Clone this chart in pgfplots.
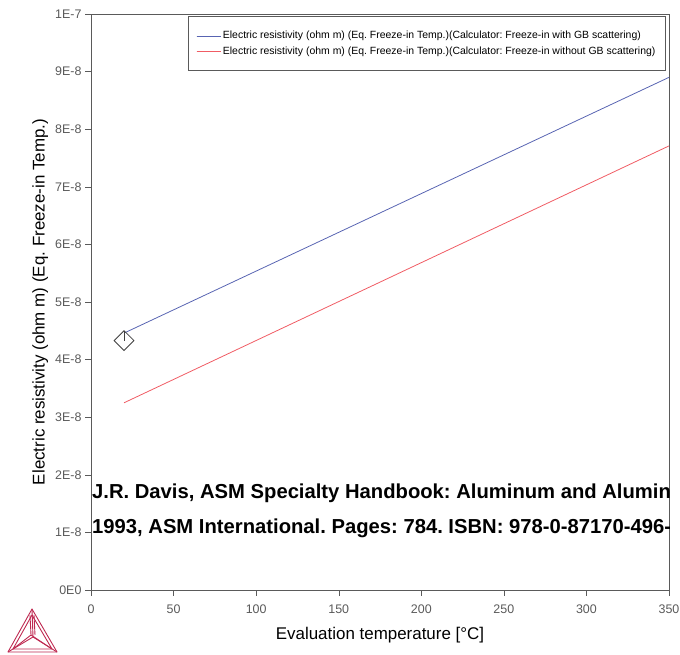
\documentclass[border=0pt]{standalone}
\usepackage{pgfplots}
\pgfplotsset{compat=1.18}
\usepackage{fontspec}
\setmainfont{Liberation Sans}
\setsansfont{Liberation Sans}
\frenchspacing
\definecolor{bl}{RGB}{88,100,178}
\definecolor{rd}{RGB}{240,92,100}
\definecolor{ax}{RGB}{90,90,90}
\definecolor{logo}{RGB}{190,40,80}
\begin{document}
\begin{tikzpicture}[x=1bp,y=1bp]
\useasboundingbox (0,0) rectangle (680,655);
\begin{axis}[
  at={(91bp,65bp)}, anchor=south west,
  scale only axis, width=578bp, height=576bp,
  xmin=0, xmax=350, ymin=0, ymax=1e-7,
  xtick={0,50,...,350},
  ytick={0,1e-8,2e-8,3e-8,4e-8,5e-8,6e-8,7e-8,8e-8,9e-8,1e-7},
  yticklabels={0E0,1E-8,2E-8,3E-8,4E-8,5E-8,6E-8,7E-8,8E-8,9E-8,1E-7},
  scaled y ticks=false,
  /pgf/number format/assume math mode=true,
  tick label style={font=\fontsize{12.5}{14}\selectfont, text=ax},
  xticklabel style={yshift=-5bp},
  tick align=outside, xtick pos=bottom, ytick pos=left,
  major tick length=6bp,
  axis line style={ax}, tick style={ax},
  xlabel={Evaluation temperature [°C]},
  ylabel={Electric resistivity (ohm m) (Eq. Freeze-in Temp.)},
  label style={font=\fontsize{17}{19}\selectfont},
  xlabel style={at={(axis description cs:0.5,-0.0781)}, anchor=center},
  ylabel style={at={(axis description cs:-0.088,0.5)}, anchor=center},
  legend cell align=left,
  legend style={at={(0.9945,0.9965)}, anchor=north east, draw=ax, line width=0.8pt,
    font=\fontsize{10.5}{12}\selectfont, row sep=2bp, inner xsep=8bp, inner ysep=13bp},
  legend image code/.code={\draw[#1] (0bp,0bp) -- (15bp,0bp); \path (0bp,0bp) -- (24bp,0bp);},
]
\addplot[bl, line width=0.8pt] coordinates {(20,4.46e-8) (350,8.9e-8)};
\addlegendentry{Electric resistivity (ohm m) (Eq. Freeze-in Temp.)(Calculator: Freeze-in with GB scattering)}
\addplot[rd, line width=0.8pt] coordinates {(20,3.25e-8) (350,7.71e-8)};
\addlegendentry{Electric resistivity (ohm m) (Eq. Freeze-in Temp.)(Calculator: Freeze-in without GB scattering)}
\addplot[only marks, mark=square, mark size=7bp, mark options={rotate=45, draw=black!75, line width=0.8pt},
  error bars/.cd, y dir=plus, y explicit, error mark=none, error bar style={black!75, line width=0.8pt}]
  coordinates {(20,4.33e-8) +- (0,0.17e-8)};
\end{axis}
\begin{scope}
\clip (91,65) rectangle (669,641);
\node[anchor=west, inner sep=0pt, font=\fontsize{20.3}{22}\selectfont\bfseries] at (92,162) {J.R. Davis, ASM Specialty Handbook: Aluminum and Aluminum Alloys,};
\node[anchor=west, inner sep=0pt, font=\fontsize{20.3}{22}\selectfont\bfseries] at (92,127) {1993, ASM International. Pages: 784. ISBN: 978-0-87170-496-2};
\end{scope}
% logo
\begin{scope}[logo, line width=0.9pt, line join=round]
\coordinate (A) at (32,46);
\coordinate (B) at (8,3);
\coordinate (C) at (57,3);
\coordinate (O) at (33,18);
\draw (A) -- (B) -- (C) -- cycle;
\draw (32,40) -- (13,6) -- (52,6) -- cycle;
\draw (A) -- (O) -- (B); \draw (O) -- (C);
\draw (30,40) -- (31,20) -- (13,6); \draw (31,20) -- (52,6);
\draw (34,40) -- (35,20);
\end{scope}
\end{tikzpicture}
\end{document}
